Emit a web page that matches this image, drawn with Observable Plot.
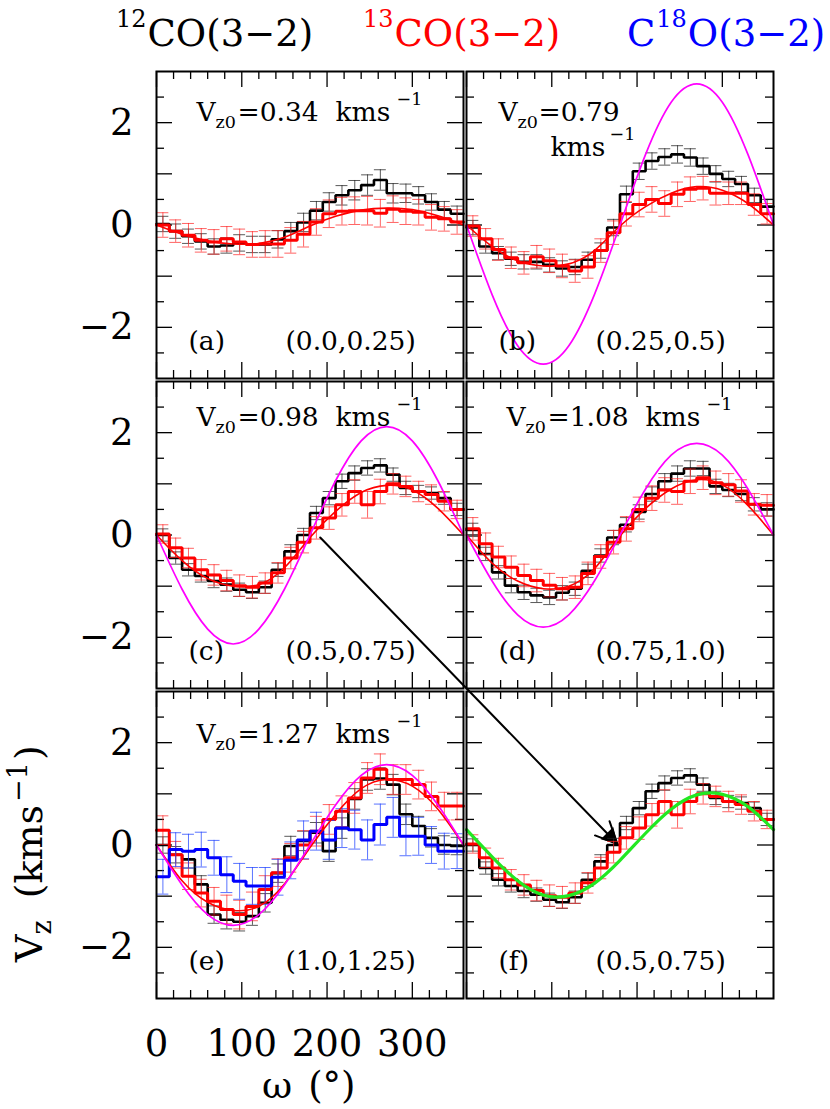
<!DOCTYPE html>
<html><head><meta charset="utf-8">
<script src="https://cdn.jsdelivr.net/npm/d3@7"></script>
<script src="https://cdn.jsdelivr.net/npm/@observablehq/plot@0.6"></script>
<style>
body{margin:0;background:#fff;}
#fig{position:relative;width:830px;height:1109px;font-family:"DejaVu Serif",serif;overflow:hidden;background:#fff;}
.abs{position:absolute;white-space:nowrap;line-height:1;font-size:37px;}
.sup{font-size:24px;position:relative;top:-19px;}
</style></head><body>
<div id="fig">
  <div class="abs" style="left:116px;top:14.5px;color:#000"><span class="sup" style="margin-right:1px">12</span>CO(3−2)</div>
  <div class="abs" style="left:363px;top:14.5px;color:#ff0000"><span class="sup" style="margin-right:1px">13</span>CO(3−2)</div>
  <div class="abs" style="left:627px;top:14.5px;color:#0000ff">C<span class="sup" style="margin:0 1px">18</span>O(3−2)</div>
  <div class="abs" style="left:10px;top:962px;font-size:38px;transform-origin:0 0;transform:rotate(-90deg)">V<span style="font-size:27px;position:relative;top:9px">z</span><span style="margin-left:22px">(kms</span><span style="font-size:27px;position:relative;top:-15px;margin-left:3px">−1</span><span style="margin-left:2px">)</span></div>
  <div class="abs" style="left:262px;top:1066.7px">ω<span style="margin-left:16px">(°)</span></div>
</div>
<script>
// ---------- data ----------
const binCenters = [7.5,22.5,37.5,52.5,67.5,82.5,97.5,112.5,127.5,142.5,157.5,172.5,187.5,202.5,217.5,232.5,247.5,262.5,277.5,292.5,307.5,322.5,337.5,352.5];
const fitAngles = [0,30,60,90,120,150,180,210,240,270,300,330,360];
const xTickMinor = [20,40,60,80,120,140,160,180,220,240,260,280,320,340];
const xTickMajor = [0,100,200,300];
const yTickMinor = [-2.5,-1.5,-0.5,0.5,1.5,2.5];
const yTickMajor = [-2,-1,0,1,2];
const yTickLabels = [-2,0,2];
const xTickLabels = [0,100,200,300];
const panelLetters = ["(a)","(b)","(c)","(d)","(e)","(f)"];
const panelRanges = ["(0.0,0.25)","(0.25,0.5)","(0.5,0.75)","(0.75,1.0)","(1.0,1.25)","(0.5,0.75)"];
const vz0Values = ["0.34","0.79","0.98","1.08","1.27"];

// panel (a)
const blackA = [0.02,-0.12,-0.22,-0.32,-0.42,-0.40,-0.35,-0.38,-0.38,-0.28,-0.12,0.05,0.28,0.45,0.58,0.68,0.78,0.88,0.62,0.62,0.58,0.45,0.30,0.22];
const errBlackA = [0.15,0.14,0.14,0.15,0.15,0.15,0.16,0.16,0.16,0.17,0.17,0.18,0.18,0.18,0.19,0.19,0.20,0.20,0.19,0.18,0.17,0.16,0.16,0.15];
const redA = [0.0,-0.12,-0.2,-0.3,-0.33,-0.27,-0.33,-0.38,-0.37,-0.37,-0.3,-0.18,0.06,0.22,0.27,0.28,0.28,0.23,0.31,0.27,0.25,0.15,0.12,0.06];
const errRedA = [0.24,0.22,0.23,0.23,0.24,0.24,0.25,0.25,0.26,0.26,0.25,0.25,0.26,0.27,0.27,0.27,0.28,0.27,0.26,0.26,0.25,0.25,0.24,0.24];
const fitRedA = [0,-0.18,-0.31,-0.37,-0.36,-0.24,-0.02,0.17,0.29,0.33,0.30,0.18,0];

// panel (b)
const blackB = [-0.05,-0.42,-0.55,-0.66,-0.72,-0.72,-0.78,-0.85,-0.82,-0.68,-0.5,-0.05,0.6,1.05,1.25,1.33,1.38,1.32,1.15,1.0,0.9,0.8,0.58,0.36];
const errBlackB = [0.14,0.13,0.13,0.13,0.14,0.14,0.14,0.15,0.15,0.15,0.15,0.16,0.16,0.16,0.16,0.16,0.17,0.17,0.16,0.16,0.15,0.15,0.14,0.14];
const redB = [-0.02,-0.27,-0.48,-0.64,-0.74,-0.62,-0.7,-0.8,-0.9,-0.82,-0.5,-0.15,0.22,0.4,0.5,0.42,0.6,0.7,0.72,0.62,0.62,0.62,0.4,0.22];
const errRedB = [0.2,0.2,0.21,0.21,0.22,0.22,0.23,0.23,0.22,0.22,0.23,0.23,0.24,0.24,0.25,0.25,0.24,0.24,0.23,0.23,0.22,0.22,0.21,0.2];
const fitRedB = [0,-0.42,-0.7,-0.8,-0.76,-0.5,-0.02,0.36,0.62,0.75,0.68,0.42,0];
const magB = [0,-1.36,-2.36,-2.72,-2.36,-1.36,0,1.38,2.4,2.76,2.4,1.38,0];

// panel (c) (also shown in (f))
const blackC = [0.0,-0.45,-0.68,-0.8,-0.9,-0.97,-1.07,-1.12,-1.02,-0.68,-0.32,0.0,0.43,0.72,1.05,1.21,1.31,1.36,1.18,0.92,0.85,0.82,0.72,0.5];
const errBlackC = [0.12,0.12,0.12,0.12,0.13,0.13,0.13,0.12,0.12,0.13,0.13,0.13,0.13,0.13,0.14,0.14,0.14,0.13,0.13,0.13,0.12,0.12,0.12,0.12];
const redC = [0.02,-0.25,-0.45,-0.68,-0.78,-0.89,-0.99,-1.02,-0.94,-0.74,-0.45,-0.14,0.14,0.33,0.59,0.85,0.59,0.85,1.0,0.95,0.85,0.79,0.66,0.5];
const errRedC = [0.18,0.19,0.19,0.2,0.2,0.2,0.21,0.21,0.2,0.2,0.21,0.21,0.22,0.22,0.22,0.23,0.26,0.24,0.2,0.2,0.2,0.19,0.19,0.18];
const fitRedC = [0,-0.5,-0.85,-1.0,-0.97,-0.64,-0.05,0.46,0.83,0.97,0.88,0.52,0];
const magC = [0,-1.06,-1.84,-2.13,-1.84,-1.06,0,1.06,1.84,2.12,1.84,1.06,0];

// panel (d)
const blackD = [0.1,-0.37,-0.73,-0.99,-1.12,-1.18,-1.22,-1.13,-1.05,-0.7,-0.4,-0.05,0.2,0.45,0.8,1.05,1.2,1.3,1.3,0.95,0.88,0.8,0.6,0.5];
const errBlackD = [0.13,0.13,0.13,0.14,0.14,0.14,0.14,0.14,0.13,0.13,0.13,0.14,0.14,0.14,0.14,0.15,0.15,0.15,0.14,0.14,0.13,0.13,0.13,0.13];
const redD = [0.12,-0.17,-0.43,-0.63,-0.79,-0.89,-0.98,-1.05,-1.02,-0.75,-0.42,-0.14,0.12,0.5,0.72,0.88,0.85,1.05,1.12,1.02,0.98,0.86,0.6,0.58];
const errRedD = [0.22,0.21,0.21,0.22,0.22,0.22,0.23,0.22,0.22,0.22,0.23,0.23,0.24,0.24,0.24,0.24,0.25,0.24,0.23,0.23,0.22,0.22,0.21,0.21];
const fitRedD = [0,-0.55,-0.9,-1.05,-1.0,-0.66,-0.02,0.52,0.9,1.08,0.98,0.58,0];
const magD = [0,-0.9,-1.56,-1.8,-1.56,-0.9,0,0.9,1.56,1.79,1.56,0.9,0];

// panel (e)
const blackE = [0.0,-0.19,-0.28,-0.77,-1.36,-1.46,-1.5,-1.39,-1.13,-0.55,-0.02,0.08,0.24,-0.12,0.33,0.9,1.28,1.3,1.18,0.6,0.37,0.14,0.0,-0.02];
const errBlackE = [0.16,0.16,0.17,0.17,0.17,0.18,0.18,0.18,0.18,0.18,0.19,0.19,0.2,0.2,0.2,0.2,0.21,0.21,0.2,0.2,0.19,0.18,0.18,0.17];
const redE = [0.29,-0.19,-0.61,-0.94,-1.1,-1.26,-1.36,-1.2,-0.87,-0.54,-0.25,0.0,0.27,0.5,0.66,0.92,1.31,1.48,1.28,1.28,1.18,0.95,0.76,0.76];
const errRedE = [0.28,0.26,0.26,0.27,0.27,0.28,0.28,0.28,0.27,0.27,0.28,0.28,0.29,0.29,0.3,0.3,0.3,0.3,0.29,0.29,0.28,0.28,0.27,0.27];
const blueE = [-0.62,-0.09,-0.12,-0.09,-0.25,-0.58,-0.71,-0.8,-0.8,-0.63,-0.3,0.1,0.27,0.1,0.33,0.3,0.1,0.4,0.54,0.17,0.17,0.0,-0.12,-0.12];
const errBlueE = [0.34,0.33,0.33,0.34,0.34,0.35,0.35,0.36,0.36,0.35,0.36,0.37,0.37,0.38,0.38,0.38,0.39,0.4,0.39,0.38,0.37,0.36,0.35,0.34];
const fitRedE = [0,-0.7,-1.12,-1.28,-1.2,-0.76,-0.05,0.6,1.1,1.28,1.15,0.7,0];
const magE = [0,-0.78,-1.36,-1.57,-1.36,-0.78,0,0.78,1.36,1.57,1.36,0.78,0];

// panel (f)
const greenF = [0.3,-0.23,-0.7,-0.98,-0.99,-0.75,-0.3,0.23,0.7,0.98,0.99,0.75,0.3];

// arrow from panel (c) to panel (f): [omega, Vz] in each panel
const arrowStartC = [192, -0.05];
const arrowEndF = [177, 0.02];

// ---------- layout ----------
const W = 307, H = 307, BIN = 15, CAP = 7;
const XDOM = [0, 360], YDOM = [-3, 3];
const fig = document.getElementById("fig");

const stepRows = vals => {
  const rows = binCenters.map((c, i) => ({w: c - BIN / 2, v: vals[i]}));
  rows.push({w: binCenters[binCenters.length - 1] + BIN / 2, v: vals[vals.length - 1]});
  return rows;
};
const errRows = (vals, errs) => binCenters.map((c, i) => ({w: c, v: vals[i], e: errs[i]}));
const fitRows = vals => fitAngles.map((a, i) => ({w: a, v: vals[i]}));

function errMarks(vals, errs, color, op) {
  const rows = errRows(vals, errs);
  const o = {stroke: color, strokeWidth: 1, strokeOpacity: op};
  return [
    Plot.ruleX(rows, {x: "w", y1: d => d.v - d.e, y2: d => d.v + d.e, ...o}),
    Plot.ruleY(rows, {y: d => d.v + d.e, x1: d => d.w - CAP, x2: d => d.w + CAP, ...o}),
    Plot.ruleY(rows, {y: d => d.v - d.e, x1: d => d.w - CAP, x2: d => d.w + CAP, ...o})
  ];
}
const stepMark = (vals, color, sw) => Plot.line(stepRows(vals), {x: "w", y: "v", curve: "step-after", stroke: color, strokeWidth: sw, strokeLinejoin: "miter"});
const fitMark = (vals, color, sw) => Plot.line(fitRows(vals), {x: "w", y: "v", curve: "natural", stroke: color, strokeWidth: sw});
const T = (txt, dx, dy, fs, anchor = "top-left") => Plot.text([txt], {text: d => d, frameAnchor: anchor, dx, dy, textAnchor: "start", lineAnchor: "bottom", fontSize: fs});

const specs = [
  {left: 156, top: 71, black: blackA, eb: errBlackA, red: redA, er: errRedA, fit: fitRedA, vz: 0, base: 49, leftCol: true},
  {left: 466, top: 71, black: blackB, eb: errBlackB, red: redB, er: errRedB, fit: fitRedB, mag: magB, vz: 1, twoLine: true},
  {left: 156, top: 381, black: blackC, eb: errBlackC, red: redC, er: errRedC, fit: fitRedC, mag: magC, vz: 2, base: 44, leftCol: true, arrow: true},
  {left: 466, top: 381, black: blackD, eb: errBlackD, red: redD, er: errRedD, fit: fitRedD, mag: magD, vz: 3, base: 44},
  {left: 156, top: 691, black: blackE, eb: errBlackE, red: redE, er: errRedE, fit: fitRedE, mag: magE, blue: blueE, ebl: errBlueE, vz: 4, base: 51, leftCol: true, xLabels: true},
  {left: 466, top: 691, black: blackC, eb: errBlackC, red: redC, er: errRedC, green: greenF}
];

specs.forEach((p, k) => {
  const marks = [];
  // inward ticks on all four sides
  marks.push(
    Plot.tickX(xTickMinor, {x: d => d, insetTop: H - 8, strokeWidth: 1.3}),
    Plot.tickX(xTickMajor, {x: d => d, insetTop: H - 16, strokeWidth: 1.3}),
    Plot.tickX(xTickMinor, {x: d => d, insetBottom: H - 8, strokeWidth: 1.3}),
    Plot.tickX(xTickMajor, {x: d => d, insetBottom: H - 16, strokeWidth: 1.3}),
    Plot.tickY(yTickMinor, {y: d => d, insetRight: W - 8, strokeWidth: 1.3}),
    Plot.tickY(yTickMajor, {y: d => d, insetRight: W - 16, strokeWidth: 1.3}),
    Plot.tickY(yTickMinor, {y: d => d, insetLeft: W - 8, strokeWidth: 1.3}),
    Plot.tickY(yTickMajor, {y: d => d, insetLeft: W - 16, strokeWidth: 1.3})
  );
  // data
  marks.push(...errMarks(p.black, p.eb, "#222", 0.75), stepMark(p.black, "#000", 2.6));
  marks.push(...errMarks(p.red, p.er, "#ff2222", 0.7), stepMark(p.red, "#ff0000", 3));
  if (p.blue) marks.push(...errMarks(p.blue, p.ebl, "#2244ff", 0.75), stepMark(p.blue, "#0000ff", 3));
  if (p.fit) marks.push(fitMark(p.fit, "#ff0000", 1.6));
  if (p.mag) marks.push(fitMark(p.mag, "#ff00ff", 1.7));
  if (p.green) marks.push(fitMark(p.green, "#22e822", 3.2));
  marks.push(Plot.frame({stroke: "#000", strokeWidth: 2}));

  // panel texts
  marks.push(T(panelLetters[k], 32, -29, 26.5, "bottom-left"), T(panelRanges[k], 129, -29, 26.5, "bottom-left"));
  if (p.vz !== undefined) {
    const v = vz0Values[p.vz];
    if (p.twoLine) {
      marks.push(T("V", 32, 49, 26.5), T("z0", 51, 56, 17.5), T("=" + v, 72, 49, 26.5),
                 T("kms", 84, 84, 26.5), T("−1", 143, 68, 17.5));
    } else {
      const b = p.base;
      marks.push(T("V", 40, b, 26.5), T("z0", 59, b + 7, 17.5), T("=" + v, 81, b, 26.5),
                 T("kms", 179, b, 26.5), T("−1", 240, b - 16, 17.5));
    }
  }
  if (p.leftCol) {
    marks.push(Plot.text(yTickLabels, {y: d => d, text: d => d < 0 ? "−" + Math.abs(d) : String(d), frameAnchor: "left", dx: -23, textAnchor: "end", lineAnchor: "middle", fontSize: 37}));
  }
  if (p.xLabels) {
    marks.push(Plot.text(xTickLabels, {x: d => d, text: d => String(d), frameAnchor: "bottom", dy: 57, textAnchor: "middle", lineAnchor: "bottom", fontSize: 37}));
  }
  if (p.arrow) {
    // end point expressed in this panel's coordinates
    const f = specs[5];
    const xPerPx = (XDOM[1] - XDOM[0]) / W, yPerPx = (YDOM[1] - YDOM[0]) / H;
    const x2 = arrowEndF[0] + (f.left - p.left) * xPerPx;
    const y2 = arrowEndF[1] - (f.top - p.top) * yPerPx;
    const row = [{x1: arrowStartC[0], y1: arrowStartC[1], x2, y2}];
    const pdx = (x2 - arrowStartC[0]) / xPerPx, pdy = -(y2 - arrowStartC[1]) / yPerPx;
    const len = Math.hypot(pdx, pdy), ux = pdx / len, uy = pdy / len;
    const rot = Math.atan2(ux, -uy) * 180 / Math.PI;
    marks.push(Plot.arrow(row, {x1: "x1", y1: "y1", x2: "x2", y2: "y2", stroke: "#000", strokeWidth: 2, headLength: 18, headAngle: 50}));
    marks.push(Plot.dot(row, {x: "x2", y: "y2", symbol: "triangle", r: 6.5, fill: "#000", stroke: "none", rotate: rot, dx: -ux * 10, dy: -uy * 10}));
  }

  const svg = Plot.plot({
    width: W, height: H, margin: 0,
    x: {domain: XDOM, axis: null},
    y: {domain: YDOM, axis: null},
    marks
  });
  Object.assign(svg.style, {position: "absolute", left: p.left + "px", top: p.top + "px", overflow: "visible", background: "transparent", fontFamily: "'DejaVu Serif', serif", maxWidth: "none"});
  fig.appendChild(svg);
});
</script>
</body></html>
